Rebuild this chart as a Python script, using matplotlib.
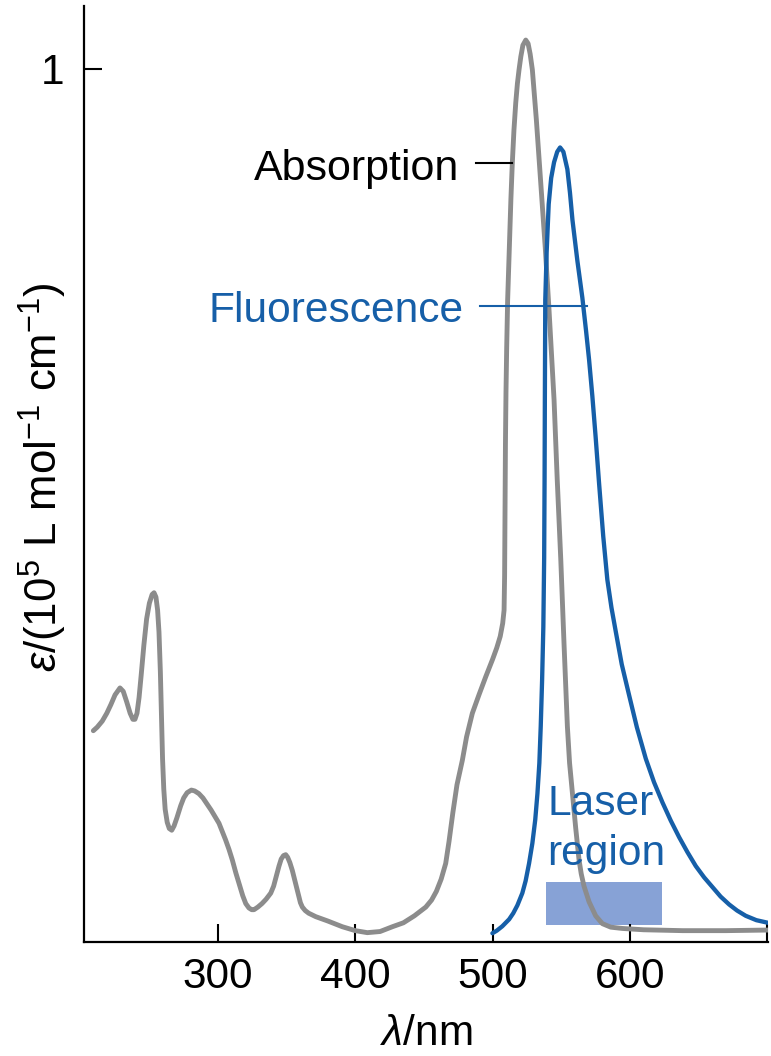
import matplotlib
matplotlib.use("Agg")
import matplotlib.pyplot as plt
from matplotlib.patches import Rectangle

plt.rcParams['font.family'] = ['Liberation Sans', 'DejaVu Sans']
plt.rcParams['mathtext.fontset'] = 'custom'
plt.rcParams['mathtext.rm'] = 'Liberation Sans'
plt.rcParams['mathtext.it'] = 'Liberation Sans:italic'
plt.rcParams['mathtext.default'] = 'regular'

# ---- data ----
abs_wavelength = [209.2, 212, 215.7, 219, 222, 225, 228.6, 231, 233.5, 236, 238, 239.5, 241, 242.5,
                  244, 246, 248, 250, 252, 253.4, 254.8, 256, 257, 258, 258.8, 259.6, 260.5, 261.5,
                  263, 264.5, 266.3, 268, 270, 272.8, 275, 277.5, 280.6, 283, 286, 289, 292, 295,
                  298, 300.7, 303, 305.5, 308, 310.4, 313, 315.5, 318, 320.2, 322.5, 324.5, 326.2,
                  329, 332, 335, 338.4, 340.5, 342.5, 344.4, 346, 347.7, 349.3, 350.7, 352.3, 354.1,
                  356, 358, 360, 361.4, 363.5, 366, 371.2, 380, 390.5, 400, 408.7, 418, 427, 435,
                  443, 451.3, 455.5, 459, 462.5, 465.8, 468.2, 471, 474, 477.9, 481, 485.2, 490,
                  495, 500, 503, 505.5, 507.3, 508.3, 508.7, 509.0, 509.3, 509.7, 510.2, 510.9,
                  512.4, 513.3, 514.3, 515.5, 516.8, 518, 519.2, 520.5, 522, 524.1, 525.8, 527.3,
                  528.9, 530.3, 531.8, 533.4, 535, 536.6, 538.3, 541, 543, 544.7, 547, 549.6, 552,
                  554.4, 556, 558.1, 560.5, 562.9, 564.5, 566.5, 570.2, 575, 579.9, 586, 594.5,
                  610, 638.2, 670, 701]
abs_epsilon = [0.242, 0.246, 0.253, 0.262, 0.272, 0.283, 0.291, 0.287, 0.275, 0.262, 0.255, 0.255,
               0.262, 0.280, 0.305, 0.340, 0.370, 0.388, 0.398, 0.400, 0.395, 0.380, 0.355, 0.310,
               0.260, 0.210, 0.175, 0.152, 0.137, 0.130, 0.128, 0.133, 0.142, 0.156, 0.165, 0.171,
               0.174, 0.173, 0.170, 0.165, 0.158, 0.151, 0.143, 0.136, 0.127, 0.117, 0.106, 0.094,
               0.079, 0.066, 0.053, 0.044, 0.039, 0.037, 0.037, 0.040, 0.044, 0.049, 0.056, 0.064,
               0.076, 0.087, 0.095, 0.099, 0.100, 0.097, 0.091, 0.082, 0.070, 0.057, 0.045, 0.040,
               0.036, 0.033, 0.029, 0.024, 0.0175, 0.013, 0.0107, 0.012, 0.0175, 0.022, 0.030,
               0.040, 0.048, 0.058, 0.072, 0.090, 0.115, 0.148, 0.180, 0.208, 0.235, 0.262, 0.283,
               0.304, 0.324, 0.337, 0.350, 0.365, 0.380, 0.42, 0.50, 0.57, 0.63, 0.68, 0.735,
               0.808, 0.852, 0.892, 0.93, 0.961, 0.983, 0.999, 1.014, 1.027, 1.033, 1.029, 1.017,
               0.999, 0.972, 0.942, 0.906, 0.870, 0.833, 0.795, 0.725, 0.668, 0.621, 0.53, 0.438,
               0.34, 0.247, 0.205, 0.170, 0.130, 0.094, 0.078, 0.064, 0.046, 0.030, 0.021, 0.017,
               0.0155, 0.014, 0.013, 0.013, 0.0137]

fl_wavelength = [499.8, 503, 507, 512, 515, 518, 521.6, 524, 526.5, 528.9, 531, 532.6, 534, 535,
                 536, 536.9, 537.5, 537.8, 538.0, 538.3, 539.3, 540.8, 542.6, 544.7, 547, 549.1,
                 551.5, 554.4, 556.3, 558.1, 561.7, 565.3, 568, 570.2, 572.6, 575, 577.5, 580.5,
                 583.5, 586.5, 589.7, 594, 599.3, 605, 611.5, 617.5, 623.6, 629.7, 635.8, 641.8,
                 647.9, 654, 660, 666, 672.2, 678, 684.3, 692, 700.5]
fl_epsilon = [0.010, 0.013, 0.018, 0.026, 0.033, 0.042, 0.056, 0.070, 0.090, 0.113, 0.140, 0.170,
              0.205, 0.247, 0.30, 0.361, 0.44, 0.53, 0.62, 0.735, 0.79, 0.845, 0.875, 0.893, 0.905,
              0.910, 0.905, 0.885, 0.858, 0.827, 0.78, 0.738, 0.70, 0.667, 0.625, 0.578, 0.525,
              0.465, 0.415, 0.383, 0.355, 0.318, 0.283, 0.246, 0.210, 0.183, 0.160, 0.139, 0.120,
              0.103, 0.087, 0.074, 0.063, 0.052, 0.043, 0.036, 0.030, 0.025, 0.022]

laser_range = (539.1, 623.2)
laser_eps = (0.0195, 0.069)

x_ticks = [300, 400, 500, 600, 700]
x_ticklabels = ['300', '400', '500', '600', '']
y_ticks = [1]
y_ticklabels = ['1']

gray = '#8c8c8c'
blue = '#165fa8'
laser_col = '#87a2d6'

fig = plt.figure(figsize=(7.71, 10.56), dpi=100)
ax = fig.add_axes([84/771, 114/1056, 684/771, 936/1056])

ax.add_patch(Rectangle((laser_range[0], laser_eps[0]), laser_range[1]-laser_range[0],
                       laser_eps[1]-laser_eps[0], facecolor=laser_col, edgecolor='none', zorder=1))
ax.plot(abs_wavelength, abs_epsilon, color=gray, lw=3.5, solid_joinstyle='round',
        solid_capstyle='round', zorder=2)
ax.plot(fl_wavelength, fl_epsilon, color=blue, lw=3.1, solid_joinstyle='round',
        solid_capstyle='round', zorder=3)

# leader lines
ax.plot([487.7, 514.3], [0.892, 0.892], color='black', lw=1.5, zorder=4)
ax.plot([490.6, 568.9], [0.728, 0.728], color=blue, lw=1.5, zorder=4)

ax.text(475.5, 0.873, 'Absorption', ha='right', va='baseline', fontsize=31, color='black')
ax.text(479.0, 0.7105, 'Fluorescence', ha='right', va='baseline', fontsize=30.6, color=blue)
ax.text(539.8, 0.1455, 'Laser', ha='left', va='baseline', fontsize=30.6, color=blue)
ax.text(539.8, 0.0882, 'region', ha='left', va='baseline', fontsize=30.6, color=blue)

ax.set_xlim(202.4, 700.5)
ax.set_ylim(0, 1.072)
ax.set_xticks(x_ticks)
ax.set_xticklabels(x_ticklabels)
ax.set_yticks(y_ticks)
ax.set_yticklabels(y_ticklabels)
ax.tick_params(direction='in', length=13, width=1.5, labelsize=30.5, color='black')
ax.tick_params(axis='x', pad=11)
ax.tick_params(axis='y', pad=14)

for s in ['top', 'right']:
    ax.spines[s].set_visible(False)
for s in ['left', 'bottom']:
    ax.spines[s].set_linewidth(1.6)

ax.set_xlabel(r'$\mathit{\lambda}$/nm', fontsize=30.5)
ax.xaxis.set_label_coords(0.5, -0.077)
ax.set_ylabel(r'$\mathit{\varepsilon}$/(10$^5$ L mol$^{-1}$ cm$^{-1}$)', fontsize=31.5)
ax.yaxis.set_label_coords(-0.022, 0.497)

fig.savefig('out.png', dpi=100)
